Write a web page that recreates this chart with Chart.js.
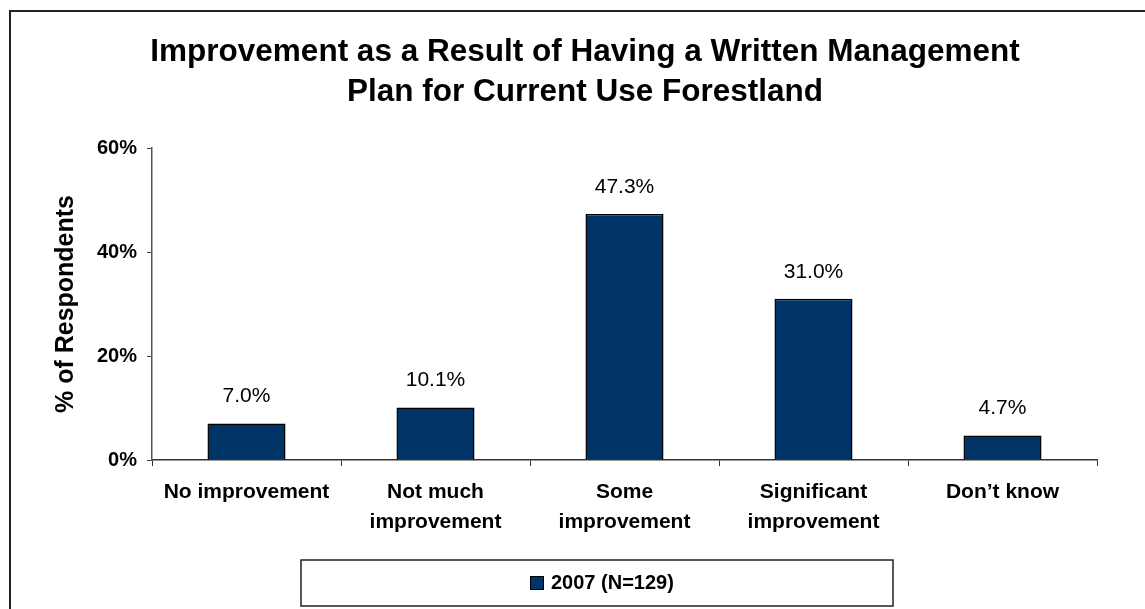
<!DOCTYPE html>
<html>
<head>
<meta charset="utf-8">
<script src="https://cdn.jsdelivr.net/npm/chart.js@4/dist/chart.umd.min.js"></script>
<style>
  html, body { margin: 0; padding: 0; background: #fff; overflow: hidden; }
  #wrap { position: relative; width: 1145px; height: 609px; }
  #frame { position: absolute; left: 9px; top: 10px; width: 1200px; height: 700px;
           border-left: 2px solid #222; border-top: 2px solid #222; pointer-events: none; }
  canvas { position: absolute; left: 0; top: 0; }
</style>
</head>
<body>
<div id="wrap">
  <canvas id="c" width="1145" height="609"></canvas>
  <div id="frame"></div>
</div>
<script>
// Survey responses: improvement from a written management plan
const categories = [
  'No improvement',
  ['Not much', 'improvement'],
  ['Some', 'improvement'],
  ['Significant', 'improvement'],
  'Don\u2019t know'
];
const values2007 = [7.0, 10.1, 47.3, 31.0, 4.7];
const seriesLabel = '2007 (N=129)';
const titleLines = [
  'Improvement as a Result of Having a Written Management',
  'Plan for Current Use Forestland'
];
const yTicks = [0, 20, 40, 60];
const yAxisTitle = '% of Respondents';

const FONT = '"Liberation Sans", Arial, Helvetica, sans-serif';
const NAVY = '#003366';

// Value labels above each bar
const valueLabels = {
  id: 'valueLabels',
  afterDatasetsDraw(chart) {
    const ctx = chart.ctx;
    const meta = chart.getDatasetMeta(0);
    const data = chart.data.datasets[0].data;
    ctx.save();
    ctx.font = '21px ' + FONT;
    ctx.fillStyle = '#000';
    ctx.textAlign = 'center';
    ctx.textBaseline = 'middle';
    meta.data.forEach((bar, i) => {
      ctx.fillText(data[i].toFixed(1) + '%', bar.x, bar.y - 27);
    });
    ctx.restore();
  }
};

// Boxed legend below the axis labels
const boxedLegend = {
  id: 'boxedLegend',
  afterDraw(chart) {
    const ctx = chart.ctx;
    const ds = chart.data.datasets[0];
    const box = { left: 301, top: 560, width: 592, height: 46 };
    ctx.save();
    ctx.strokeStyle = '#222';
    ctx.lineWidth = 1.5;
    ctx.strokeRect(box.left, box.top, box.width, box.height);
    const midY = box.top + box.height / 2;
    ctx.font = 'bold 20px ' + FONT;
    const sq = 14, gap = 7;
    const startX = 530;
    ctx.fillStyle = ds.backgroundColor;
    ctx.fillRect(startX, midY - sq / 2, sq, sq);
    ctx.strokeStyle = '#000';
    ctx.lineWidth = 1;
    ctx.strokeRect(startX + 0.5, midY - sq / 2 + 0.5, sq - 1, sq - 1);
    ctx.fillStyle = '#000';
    ctx.textAlign = 'left';
    ctx.textBaseline = 'middle';
    ctx.fillText(ds.label, startX + sq + gap, midY);
    ctx.restore();
  }
};

// Nudge the title block horizontally
const titleShift = {
  id: 'titleShift',
  afterLayout(chart) {
    const t = chart.titleBlock;
    if (t) { t.left += 14; t.right += 14; }
  }
};

new Chart(document.getElementById('c'), {
  type: 'bar',
  data: {
    labels: categories,
    datasets: [{
      label: seriesLabel,
      data: values2007,
      backgroundColor: NAVY,
      borderColor: '#000',
      borderWidth: 1.5,
      barPercentage: 0.413,
      categoryPercentage: 1.0
    }]
  },
  options: {
    responsive: false,
    animation: false,
    layout: { padding: { left: 45, right: 48, top: 10, bottom: 0 } },
    plugins: {
      legend: { display: false },
      tooltip: { enabled: false },
      title: {
        display: true,
        text: titleLines,
        color: '#000',
        font: { family: FONT, size: 31.5, weight: 'bold', lineHeight: 1.27 },
        padding: { top: 22, bottom: 36 }
      }
    },
    scales: {
      x: {
        grid: { display: true, drawOnChartArea: false, offset: true,
                tickLength: 6, color: '#333', lineWidth: 1 },
        border: { display: true, color: '#333', width: 1.5 },
        ticks: {
          color: '#000',
          padding: 11,
          maxRotation: 0,
          autoSkip: false,
          font: { family: FONT, size: 21, weight: 'bold', lineHeight: 1.45 }
        },
        afterFit(scale) { scale.height = 149; }
      },
      y: {
        min: 0,
        max: 60,
        afterBuildTicks(scale) { scale.ticks = yTicks.map(v => ({ value: v })); },
        grid: { display: true, drawOnChartArea: false, tickLength: 5,
                color: '#444', lineWidth: 1 },
        border: { display: true, color: '#555', width: 1.5 },
        ticks: {
          color: '#000',
          padding: 10,
          font: { family: FONT, size: 20, weight: 'bold' },
          callback: v => v + '%'
        },
        title: {
          display: true,
          text: yAxisTitle,
          color: '#000',
          font: { family: FONT, size: 25, weight: 'bold', lineHeight: 1.2 },
          padding: { top: 6, bottom: 0 }
        },
        afterFit(scale) { scale.width = 107; }
      }
    }
  },
  plugins: [valueLabels, boxedLegend, titleShift]
});
</script>
</body>
</html>
